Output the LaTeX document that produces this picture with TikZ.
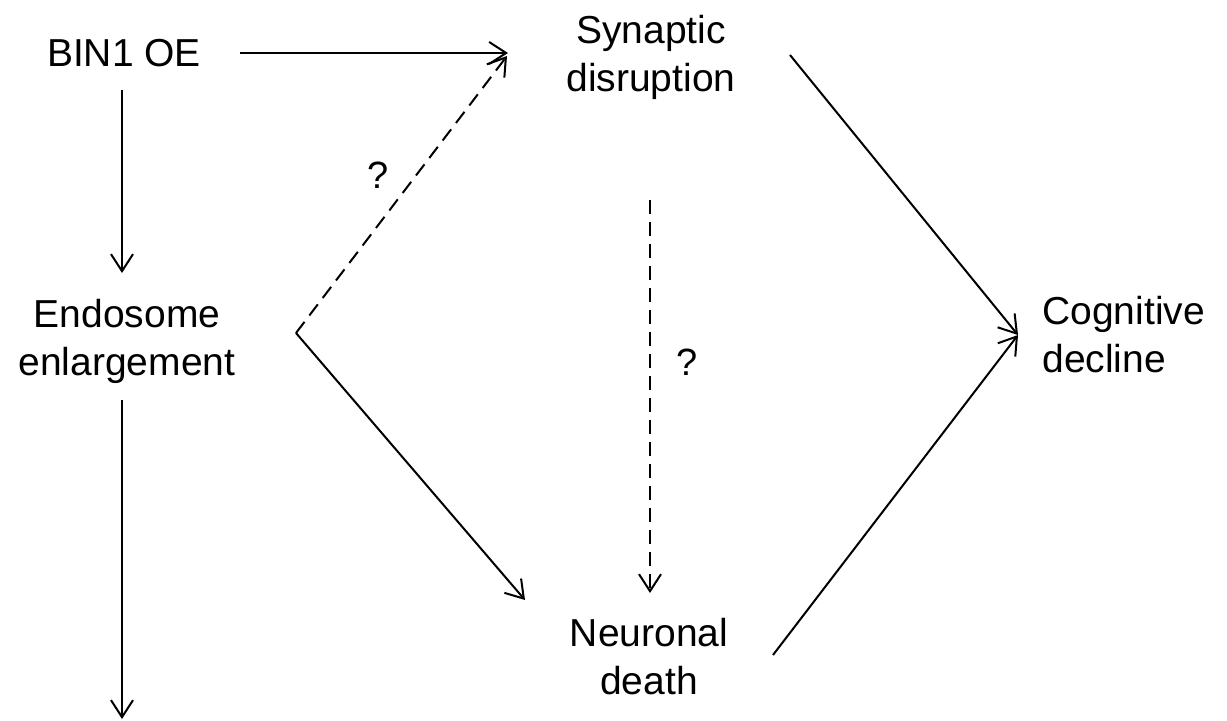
\documentclass[tikz,border=0pt]{standalone}
\usepackage{fontspec}
\setmainfont{Liberation Sans}
\usetikzlibrary{arrows.meta, positioning, calc}
\tikzset{
  dgtext/.style={font=\fontsize{19.5}{24}\selectfont, inner sep=0pt, align=center},
  dglink/.style={-{Straight Barb[length=8.5pt, width=11pt]}, line width=1pt},
  dgmaybe/.style={dglink, dash pattern=on 7pt off 4pt},
  dgask/.style={font=\fontsize{19}{22}\selectfont, inner sep=0pt},
}
\begin{document}
\begin{tikzpicture}[x=0.5pt, y=-0.5pt]
\useasboundingbox (0,0) rectangle (1227,721);

% Nodes -------------------------------------------------------------------
\node[dgtext] (bin) at (124,53) {BIN1 OE};
\node[dgtext] (syn) at (651,57) {Synaptic\\disruption};
\node[dgtext] (endo) at (127,341) {Endosome\\enlargement};
\node[dgtext, align=left, anchor=west] (cog) at (1042,335) {Cognitive\\decline};
\node[dgtext] (neu) at (649,657) {Neuronal\\death};
\coordinate (down) at (122,719);

% Question marks ----------------------------------------------------------
\node[dgask] (q1) at (378,175) {?};
\node[dgask] (q2) at (687,362) {?};

% Flow --------------------------------------------------------------------
\draw[dglink] ($(bin)+(116,0)$) -- ($(syn)+(-143,-4)$);
\draw[dglink] ($(bin)+(-2,37)$) -- ($(endo)+(-5,-68)$);
\draw[dglink] ($(endo)+(-5,59)$) -- (down);
\draw[dgmaybe] ($(endo)+(169,-8)$) -- ($(syn)+(-144,-1)$);
\draw[dglink] ($(endo)+(169,-8)$) -- ($(neu)+(-124,-57)$);
\draw[dgmaybe] ($(syn)+(-1,143)$) -- ($(neu)+(1,-64)$);
\draw[dglink] ($(syn)+(139,-2)$) -- ($(cog.west)+(-24,0)$);
\draw[dglink] ($(neu)+(124,-2)$) -- ($(cog.west)+(-24,0)$);

\end{tikzpicture}
\end{document}
